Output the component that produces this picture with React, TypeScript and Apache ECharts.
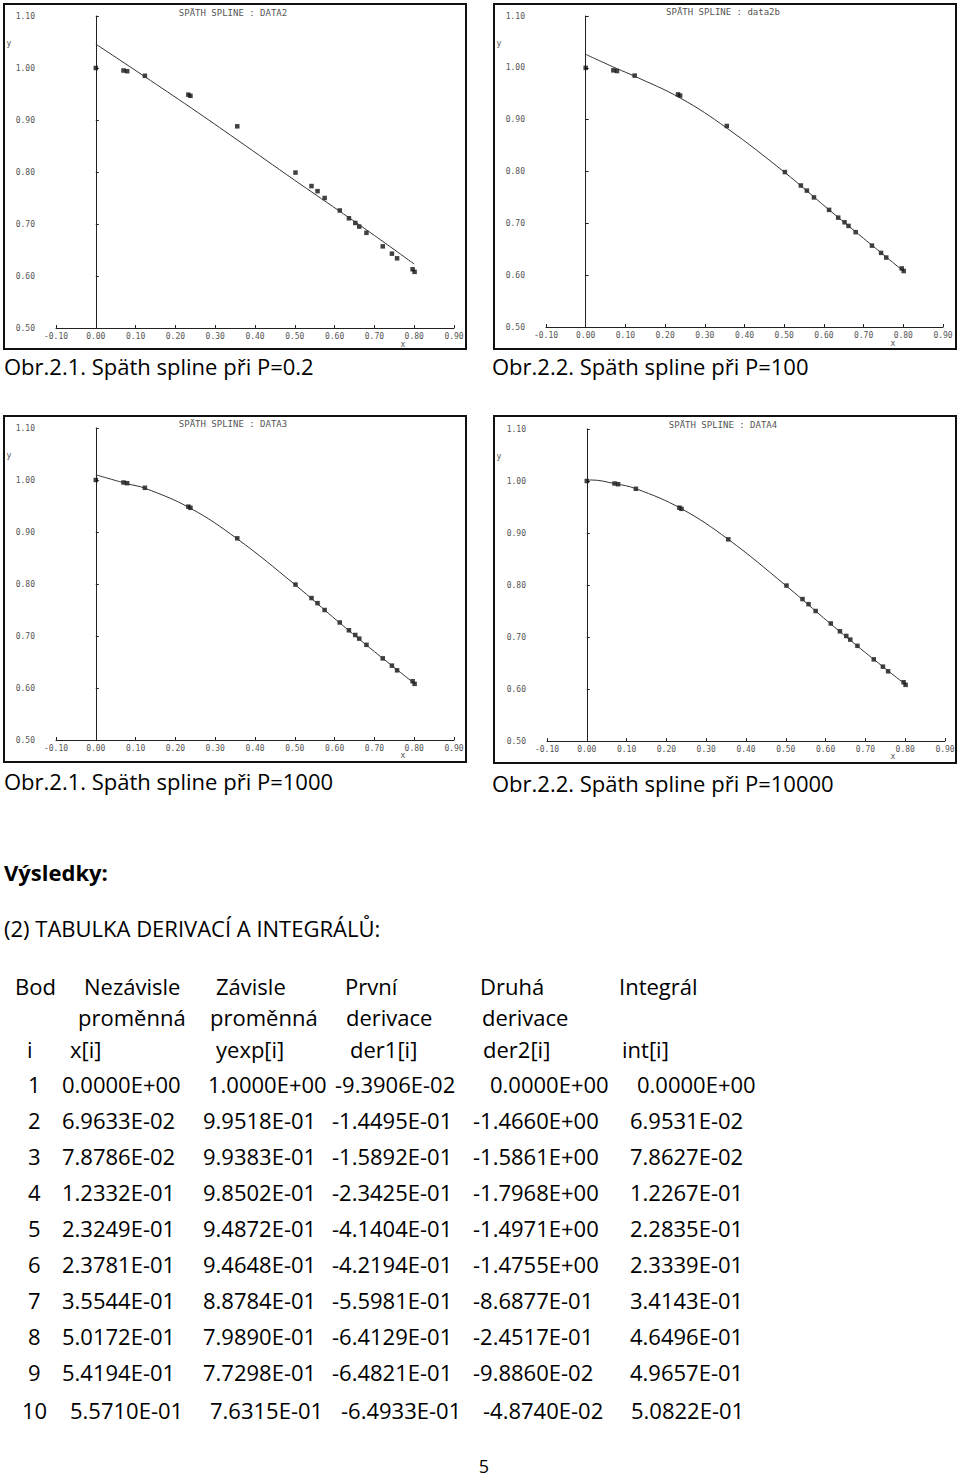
import React, { useEffect, useRef } from "react";
import * as echarts from "echarts";

// ---- measured points (same data set in all four fits) ----
const pointX = [0, 0.069633, 0.078786, 0.12332, 0.23249, 0.23781, 0.35544, 0.50172, 0.54194, 0.5571, 0.575, 0.613, 0.636, 0.652, 0.662, 0.68, 0.721, 0.744, 0.757, 0.796, 0.801];
const pointY = [1.0, 0.99518, 0.99383, 0.98502, 0.94872, 0.94648, 0.88784, 0.7989, 0.77298, 0.76315, 0.75, 0.726, 0.711, 0.702, 0.695, 0.683, 0.657, 0.643, 0.634, 0.613, 0.608];

// ---- spline curves ----
const curve1X = [0, 0.12, 0.24, 0.355, 0.5, 0.61, 0.7, 0.8];
const curve1Y = [1.046, 0.985, 0.923, 0.862, 0.784, 0.726, 0.678, 0.623];
const curve2X = [0, 0.08, 0.12, 0.24, 0.355, 0.5, 0.61, 0.7, 0.8];
const curve2Y = [1.026, 0.998, 0.985, 0.941, 0.884, 0.799, 0.728, 0.671, 0.608];
const curve3X = [0, 0.078, 0.124, 0.237, 0.355, 0.5, 0.61, 0.7, 0.8];
const curve3Y = [1.01, 0.993, 0.984, 0.946, 0.887, 0.799, 0.727, 0.67, 0.609];
const curve4X = [0, 0.01, 0.07, 0.124, 0.237, 0.355, 0.5, 0.61, 0.7, 0.8];
const curve4Y = [1.0, 1.002, 0.995, 0.985, 0.947, 0.888, 0.799, 0.727, 0.67, 0.609];

const curvesX = [curve1X, curve2X, curve3X, curve4X];
const curvesY = [curve1Y, curve2Y, curve3Y, curve4Y];

const plotTitles = ["SPÄTH SPLINE : DATA2", "SPÄTH SPLINE : data2b", "SPÄTH SPLINE : DATA3", "SPÄTH SPLINE : DATA4"];
const captions = ["Obr.2.1. Späth spline při P=0.2", "Obr.2.2. Späth spline při P=100", "Obr.2.1. Späth spline při P=1000", "Obr.2.2. Späth spline při P=10000"];

// ---- table ----
const headRow1 = ["Bod", "Nezávisle", "Závisle", "První", "Druhá", "Integrál"];
const headRow2 = ["", "proměnná", "proměnná", "derivace", "derivace", ""];
const headRow3 = ["i", "x[i]", "yexp[i]", "der1[i]", "der2[i]", "int[i]"];
const colI = ["1", "2", "3", "4", "5", "6", "7", "8", "9", "10"];
const colX = ["0.0000E+00", "6.9633E-02", "7.8786E-02", "1.2332E-01", "2.3249E-01", "2.3781E-01", "3.5544E-01", "5.0172E-01", "5.4194E-01", "5.5710E-01"];
const colY = ["1.0000E+00", "9.9518E-01", "9.9383E-01", "9.8502E-01", "9.4872E-01", "9.4648E-01", "8.8784E-01", "7.9890E-01", "7.7298E-01", "7.6315E-01"];
const colD1 = ["-9.3906E-02", "-1.4495E-01", "-1.5892E-01", "-2.3425E-01", "-4.1404E-01", "-4.2194E-01", "-5.5981E-01", "-6.4129E-01", "-6.4821E-01", "-6.4933E-01"];
const colD2 = ["0.0000E+00", "-1.4660E+00", "-1.5861E+00", "-1.7968E+00", "-1.4971E+00", "-1.4755E+00", "-8.6877E-01", "-2.4517E-01", "-9.8860E-02", "-4.8740E-02"];
const colInt = ["0.0000E+00", "6.9531E-02", "7.8627E-02", "1.2267E-01", "2.2835E-01", "2.3339E-01", "3.4143E-01", "4.6496E-01", "4.9657E-01", "5.0822E-01"];

// ---- layout ----
const grids = [
  { left: 56, top: 16, width: 398, height: 312 },
  { left: 546, top: 16, width: 397, height: 311 },
  { left: 56, top: 428, width: 398, height: 312 },
  { left: 547, top: 429, width: 398, height: 312 },
];
const borders = [
  [4, 4, 462, 345],
  [494, 4, 462, 345],
  [4, 416, 462, 346],
  [494, 416, 462, 347],
];
const titlePos = [[233, 13], [723, 12], [233, 424], [723, 425]];
const yNamePos = [[9, 43], [499, 43], [9, 455], [499, 456]];
const xNamePos = [[403, 344], [893, 343], [403, 755], [893, 756]];
const captionPos = [[4, 366], [492, 366], [4, 781], [492, 783]];

const headCols1 = [15, 84, 216, 345, 480, 619];
const headCols2 = [0, 78, 210, 346, 482, 0];
const headCols3 = [27, 70, 216, 350, 483, 622];
const headY = [986, 1017, 1049];
const rowCols = [
  [28, 62, 208, 335, 490, 637],
  [28, 62, 203, 332, 473, 630],
  [28, 62, 203, 332, 473, 630],
  [28, 62, 203, 332, 473, 630],
  [28, 62, 203, 332, 473, 630],
  [28, 62, 203, 332, 473, 630],
  [28, 62, 203, 332, 473, 630],
  [28, 62, 203, 332, 473, 630],
  [28, 62, 203, 332, 473, 630],
  [22, 70, 210, 341, 483, 631],
];
const rowY = [1084, 1120, 1156, 1192, 1228, 1264, 1300, 1336, 1372, 1410];

const DOC_FONT = "'Open Sans', sans-serif";
const PLOT_FONT = "'DejaVu Sans Mono', monospace";

export default function App() {
  const ref = useRef<HTMLDivElement>(null);
  useEffect(() => {
    if (!ref.current) return;
    const chart = echarts.init(ref.current, undefined, { renderer: "svg" });

    const xAxes = grids.map((_, i) => ({
      type: "value",
      gridIndex: i,
      min: -0.1,
      max: 0.9,
      interval: 0.1,
      axisLine: { lineStyle: { color: "#222", width: 1 } },
      axisTick: { inside: true, length: 3, lineStyle: { color: "#222" } },
      splitLine: { show: false },
      axisLabel: {
        formatter: (v: number) => v.toFixed(2),
        fontSize: 8,
        color: "#555",
        fontFamily: PLOT_FONT,
        margin: 4,
      },
    }));
    const yAxes = grids.map((_, i) => ({
      type: "value",
      gridIndex: i,
      min: 0.5,
      max: 1.1,
      interval: 0.1,
      axisLine: { show: true, lineStyle: { color: "#222", width: 1 } },
      axisTick: { show: true, inside: true, length: 3, lineStyle: { color: "#222" } },
      splitLine: { show: false },
      axisLabel: {
        formatter: (v: number) => v.toFixed(2),
        fontSize: 8,
        color: "#555",
        fontFamily: PLOT_FONT,
        margin: 21,
      },
    }));

    const series: any[] = [];
    grids.forEach((_, i) => {
      series.push({
        type: "line",
        xAxisIndex: i,
        yAxisIndex: i,
        data: curvesX[i].map((x, j) => [x, curvesY[i][j]]),
        smooth: 0.4,
        showSymbol: false,
        symbol: "none",
        lineStyle: { color: "#333", width: 1 },
        silent: true,
      });
      series.push({
        type: "scatter",
        xAxisIndex: i,
        yAxisIndex: i,
        data: pointX.map((x, j) => [x, pointY[j]]),
        symbol: "rect",
        symbolSize: 4.5,
        itemStyle: { color: "#111" },
        silent: true,
      });
    });

    const graphic: any[] = [];
    borders.forEach(([x, y, w, h]) => {
      graphic.push({
        type: "rect",
        shape: { x, y, width: w, height: h },
        style: { fill: "none", stroke: "#111", lineWidth: 2 },
        silent: true,
      });
    });
    const txt = (text: string, x: number, y: number, size: number, opts: any = {}) => ({
      type: "text",
      x,
      y,
      silent: true,
      style: {
        text,
        fontSize: size,
        fontFamily: opts.font || DOC_FONT,
        fontWeight: opts.bold ? "bold" : "normal",
        fill: opts.fill || "#000",
        align: opts.align || "left",
        verticalAlign: "middle",
      },
    });
    plotTitles.forEach((t, i) => graphic.push(txt(t, titlePos[i][0], titlePos[i][1], 9, { font: PLOT_FONT, fill: "#555", align: "center" })));
    yNamePos.forEach((p) => graphic.push(txt("y", p[0], p[1], 8, { font: PLOT_FONT, fill: "#555", align: "center" })));
    xNamePos.forEach((p) => graphic.push(txt("x", p[0], p[1], 8, { font: PLOT_FONT, fill: "#555", align: "center" })));
    captions.forEach((t, i) => graphic.push(txt(t, captionPos[i][0], captionPos[i][1], 22)));

    graphic.push(txt("Výsledky:", 4, 872, 22, { bold: true }));
    graphic.push(txt("(2) TABULKA DERIVACÍ A INTEGRÁLŮ:", 4, 928, 22));

    const heads = [headRow1, headRow2, headRow3];
    const headCols = [headCols1, headCols2, headCols3];
    heads.forEach((row, r) => {
      row.forEach((t, c) => {
        if (t) graphic.push(txt(t, headCols[r][c], headY[r], 22));
      });
    });
    const cols = [colI, colX, colY, colD1, colD2, colInt];
    rowY.forEach((y, r) => {
      cols.forEach((col, c) => {
        graphic.push(txt(col[r], rowCols[r][c], y, 22));
      });
    });
    graphic.push(txt("5", 484, 1466, 18, { align: "center" }));

    chart.setOption({
      animation: false,
      backgroundColor: "#fff",
      grid: grids.map((g) => ({ ...g, containLabel: false })),
      xAxis: xAxes,
      yAxis: yAxes,
      series,
      graphic,
    });
    return () => chart.dispose();
  }, []);
  return (
    <div
      ref={ref}
      style={{ position: "absolute", left: 0, top: 0, width: 960, height: 1481, background: "#fff" }}
    />
  );
}
